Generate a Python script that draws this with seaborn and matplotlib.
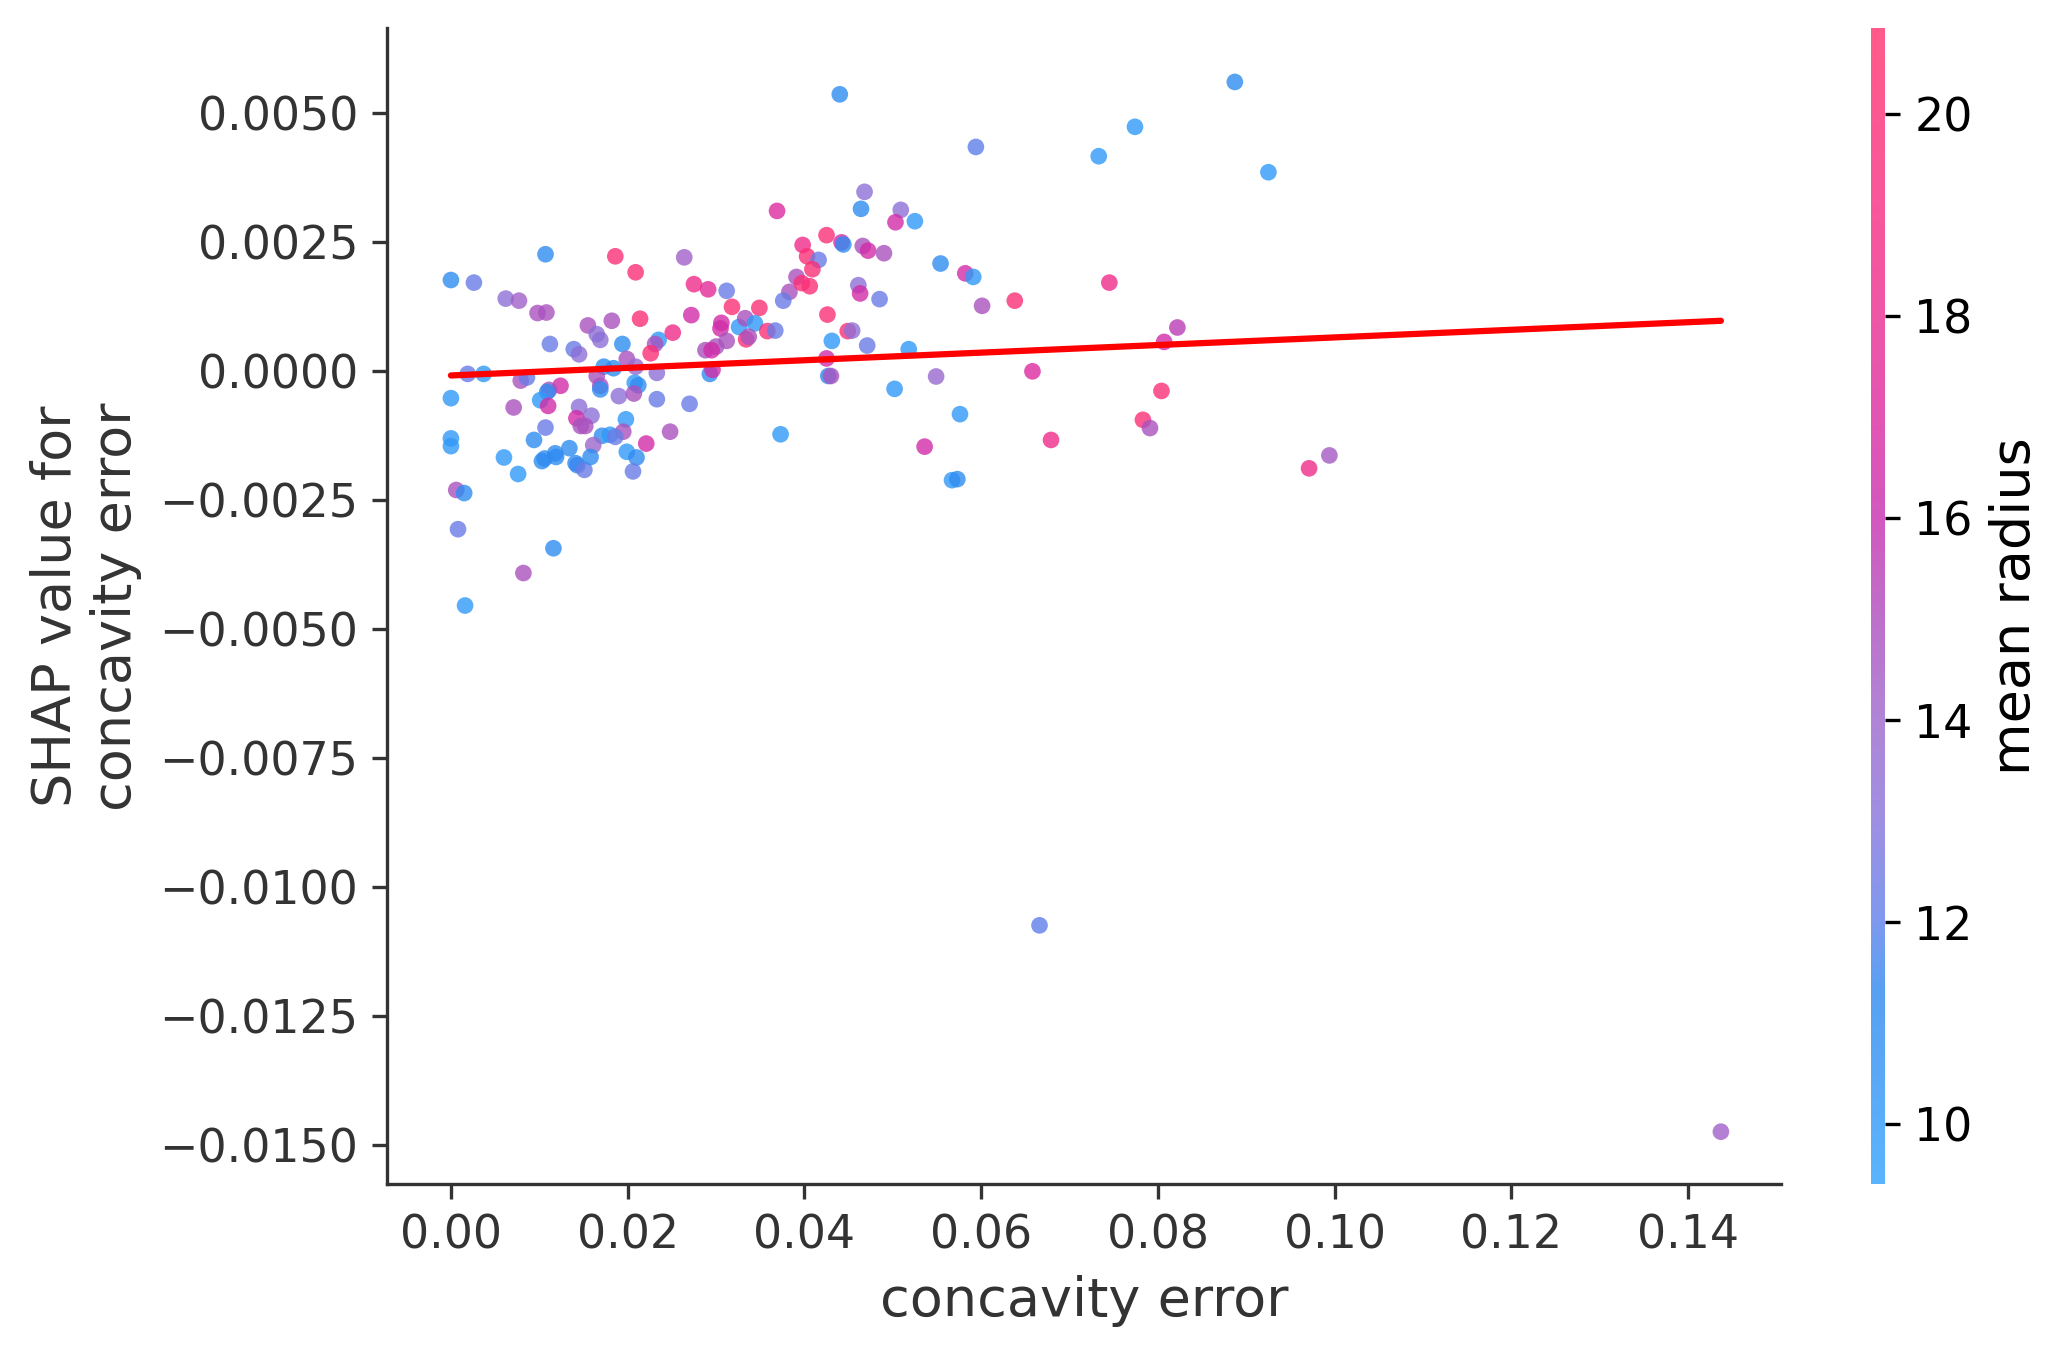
import numpy as np
import pandas as pd
import matplotlib
matplotlib.use("Agg")
import matplotlib.pyplot as plt
import seaborn as sns
from matplotlib.colors import LinearSegmentedColormap, Normalize
from matplotlib.cm import ScalarMappable

# ---------------- data ----------------
concavity_error = [
    0.0107, 0.0000, 0.0026, 0.0062, 0.0077, 0.0098, 0.0108, 0.0186, 0.0209, 0.0264,
    0.0369, 0.0275, 0.0291, 0.0312, 0.0318, 0.0349, 0.0391, 0.0383, 0.0376, 0.0272,
    0.0214, 0.0182, 0.0155, 0.0165, 0.0169, 0.0112, 0.0139, 0.0145, 0.0194, 0.0235,
    0.0231, 0.0226, 0.0251, 0.0306, 0.0305, 0.0326, 0.0333, 0.0344, 0.0358, 0.0367,
    0.0334, 0.0337, 0.0312, 0.0300, 0.0288, 0.0295, 0.0293, 0.0296, 0.0019, 0.0037,
    0.0199, 0.0209, 0.0173, 0.0184, 0.0165, 0.0233, 0.0079, 0.0086, 0.0000, 0.0124,
    0.0111, 0.0109, 0.0101, 0.0110, 0.0071, 0.0169, 0.0169, 0.0190, 0.0208, 0.0212,
    0.0207, 0.0233, 0.0270, 0.0145, 0.0159, 0.0142, 0.0147, 0.0152, 0.0107, 0.0198,
    0.0195, 0.0248, 0.0373, 0.0000, 0.0000, 0.0094, 0.0171, 0.0180, 0.0186, 0.0221,
    0.0161, 0.0060, 0.0076, 0.0103, 0.0106, 0.0118, 0.0119, 0.0134, 0.0141, 0.0143,
    0.0151, 0.0158, 0.0199, 0.0210, 0.0206, 0.0006, 0.0015, 0.0008, 0.0116, 0.0082,
    0.0016, 0.0594, 0.0733, 0.0468, 0.0464, 0.0509, 0.0503, 0.0525, 0.0425, 0.0398,
    0.0442, 0.0444, 0.0466, 0.0472, 0.0490, 0.0403, 0.0416, 0.0409, 0.0397, 0.0406,
    0.0554, 0.0582, 0.0591, 0.0461, 0.0463, 0.0485, 0.0601, 0.0638, 0.0745, 0.0426,
    0.0449, 0.0454, 0.0431, 0.0471, 0.0518, 0.0425, 0.0427, 0.0430, 0.0502, 0.0549,
    0.0658, 0.0576, 0.0783, 0.0791, 0.0679, 0.0536, 0.0567, 0.0573, 0.0887, 0.0774,
    0.0925, 0.0822, 0.0807, 0.0804, 0.0971, 0.0994, 0.0440, 0.0666, 0.1437,
]

shap_concavity_error = [
    0.00227, 0.00177, 0.00172, 0.00141, 0.00137, 0.00113, 0.00114, 0.00223, 0.00192, 0.00221,
    0.00311, 0.00169, 0.00159, 0.00156, 0.00125, 0.00123, 0.00183, 0.00154, 0.00137, 0.00109,
    0.00102, 0.00098, 0.00089, 0.00072, 0.00061, 0.00053, 0.00043, 0.00033, 0.00053, 0.00061,
    0.00053, 0.00035, 0.00075, 0.00094, 0.00083, 0.00086, 0.00103, 0.00093, 0.00078, 0.00079,
    0.00062, 0.00067, 0.00059, 0.00048, 0.00041, 0.00041, -0.00005, 0.00003, -0.00005, -0.00005,
    0.00024, 0.00009, 0.00009, 0.00006, -0.00009, -0.00003, -0.00018, -0.00012, -0.00052, -0.00028,
    -0.00036, -0.00040, -0.00056, -0.00067, -0.00070, -0.00028, -0.00035, -0.00048, -0.00022, -0.00027,
    -0.00043, -0.00054, -0.00063, -0.00069, -0.00086, -0.00091, -0.00106, -0.00106, -0.00109, -0.00093,
    -0.00117, -0.00117, -0.00122, -0.00130, -0.00145, -0.00133, -0.00125, -0.00123, -0.00127, -0.00140,
    -0.00143, -0.00167, -0.00199, -0.00174, -0.00169, -0.00159, -0.00166, -0.00149, -0.00178, -0.00182,
    -0.00191, -0.00166, -0.00156, -0.00167, -0.00194, -0.00230, -0.00236, -0.00306, -0.00343, -0.00391,
    -0.00454, 0.00435, 0.00417, 0.00348, 0.00315, 0.00313, 0.00289, 0.00291, 0.00264, 0.00245,
    0.00250, 0.00246, 0.00243, 0.00234, 0.00229, 0.00223, 0.00216, 0.00198, 0.00171, 0.00165,
    0.00209, 0.00190, 0.00183, 0.00167, 0.00151, 0.00140, 0.00127, 0.00137, 0.00172, 0.00110,
    0.00078, 0.00079, 0.00059, 0.00050, 0.00043, 0.00025, -0.00009, -0.00009, -0.00034, -0.00010,
    0.00000, -0.00083, -0.00094, -0.00110, -0.00133, -0.00146, -0.00211, -0.00209, 0.00561, 0.00474,
    0.00386, 0.00085, 0.00057, -0.00038, -0.00188, -0.00163, 0.00537, -0.01074, -0.01474,
]

mean_radius = [
    11.0, 11.0, 12.3, 13.3, 14.2, 14.8, 14.8, 20.0, 20.0, 14.2,
    17.0, 18.5, 17.5, 12.3, 20.0, 20.0, 14.8, 14.8, 12.3, 16.5,
    20.0, 14.8, 14.8, 13.3, 13.3, 12.3, 12.3, 13.3, 11.0, 10.0,
    14.8, 20.0, 18.5, 16.5, 16.5, 10.0, 14.8, 10.0, 20.0, 12.3,
    20.0, 14.8, 14.8, 14.8, 14.8, 16.5, 11.0, 16.5, 12.3, 10.0,
    14.8, 13.8, 11.0, 11.0, 14.8, 13.3, 14.8, 12.3, 10.0, 16.5,
    14.8, 11.0, 10.0, 16.5, 14.8, 14.8, 11.0, 13.3, 10.0, 11.0,
    14.8, 12.3, 12.3, 13.3, 13.3, 16.5, 14.8, 14.8, 12.3, 10.0,
    14.8, 14.8, 10.0, 10.0, 10.0, 11.0, 11.0, 10.0, 12.3, 16.5,
    14.0, 10.0, 10.0, 11.0, 11.0, 11.0, 11.0, 11.0, 11.0, 11.5,
    12.3, 11.0, 10.0, 11.0, 12.3, 14.8, 11.0, 12.3, 11.0, 14.8,
    10.0, 12.0, 10.0, 13.3, 11.0, 13.3, 16.5, 10.0, 20.0, 18.5,
    16.5, 11.0, 14.8, 16.5, 14.8, 20.0, 12.3, 20.0, 20.0, 20.0,
    11.0, 16.5, 10.0, 13.3, 16.5, 12.3, 14.8, 20.0, 18.5, 20.0,
    20.0, 13.3, 10.0, 12.3, 10.0, 16.5, 11.0, 14.8, 10.0, 13.8,
    17.0, 10.0, 20.0, 14.8, 18.5, 16.5, 10.0, 11.0, 11.0, 10.0,
    10.0, 15.5, 16.5, 20.0, 18.5, 14.5, 11.0, 12.0, 14.2,
]

trend_x = [0.0000, 0.1437]
trend_y = [-0.00008, 0.00098]

x_ticks = [0.00, 0.02, 0.04, 0.06, 0.08, 0.10, 0.12, 0.14]
y_ticks = [0.0050, 0.0025, 0.0000, -0.0025, -0.0050, -0.0075, -0.0100, -0.0125, -0.0150]
cbar_ticks = [10, 12, 14, 16, 18, 20]

df = pd.DataFrame({"concavity error": concavity_error,
                   "shap": shap_concavity_error,
                   "mean radius": mean_radius})

# ---------------- style ----------------
sns.set_style("ticks")
plt.rcParams["font.family"] = ["DejaVu Sans"]

vmin, vmax = 9.405, 20.85
anchor_vals = [9.405, 10.0, 11.3, 12.0, 13.0, 14.0, 15.0, 16.0, 17.0, 18.0, 19.0, 20.85]
anchor_cols = ["#5ab4fc", "#5aadf9", "#58a0f2", "#7e99ee", "#9e8fe2", "#b085d6",
               "#bd70c9", "#d258bf", "#e255b3", "#ee56a6", "#f7579b", "#ff5a8a"]
pos = [(v - vmin) / (vmax - vmin) for v in anchor_vals]
disp_rgb = np.array([matplotlib.colors.to_rgb(c) for c in anchor_cols])
alpha = 0.8
base_rgb = np.clip((disp_rgb - (1 - alpha)) / alpha, 0, 1)
cbar_cmap = LinearSegmentedColormap.from_list("disp", list(zip(pos, disp_rgb)))
point_cmap = LinearSegmentedColormap.from_list("base", list(zip(pos, base_rgb)))
norm = Normalize(vmin=vmin, vmax=vmax)

fig = plt.figure(figsize=(2069 / 300, 1357 / 300), dpi=300)
ax = fig.add_axes([387.3 / 2069, 1 - 1184.3 / 1357, (1781 - 387.3) / 2069, (1184.3 - 28.3) / 1357])
cax = fig.add_axes([1871 / 2069, 1 - 1184.3 / 1357, 14 / 2069, (1184.3 - 28.3) / 1357])

sns.scatterplot(data=df, x="concavity error", y="shap", hue="mean radius",
                palette=point_cmap, hue_norm=norm, s=16, linewidth=0, alpha=alpha,
                legend=False, ax=ax, zorder=2)
sns.lineplot(x=trend_x, y=trend_y, color="red", linewidth=1.5, ax=ax, zorder=3)

ax.set_xlim(-0.0072, 0.1505)
ax.set_ylim(-0.01576, 0.00665)
ax.set_xticks(x_ticks)
ax.set_yticks(y_ticks)
ax.xaxis.set_major_formatter(matplotlib.ticker.FormatStrFormatter("%.2f"))
ax.yaxis.set_major_formatter(matplotlib.ticker.FuncFormatter(
    lambda v, p: ("%.4f" % v).replace("-", "\u2212") if abs(v) > 1e-12 else "0.0000"))

grey = "#333333"
for s in ["top", "right"]:
    ax.spines[s].set_visible(False)
for s in ["left", "bottom"]:
    ax.spines[s].set_color(grey)
    ax.spines[s].set_linewidth(0.8)
ax.tick_params(axis="both", labelsize=11, labelcolor=grey, color=grey,
               length=3.5, width=0.8, direction="out")
ax.set_xlabel("concavity error", fontsize=13, color=grey)
ax.set_ylabel("SHAP value for\nconcavity error", fontsize=13, color=grey)

sm = ScalarMappable(norm=norm, cmap=cbar_cmap)
cb = fig.colorbar(sm, cax=cax)
cb.outline.set_visible(False)
cb.set_ticks(cbar_ticks)
cb.ax.tick_params(labelsize=11, length=3.5, width=0.8, color="black", labelcolor="black")
cb.set_label("mean radius", fontsize=13, color="black")

fig.savefig("out.png", dpi=300)
